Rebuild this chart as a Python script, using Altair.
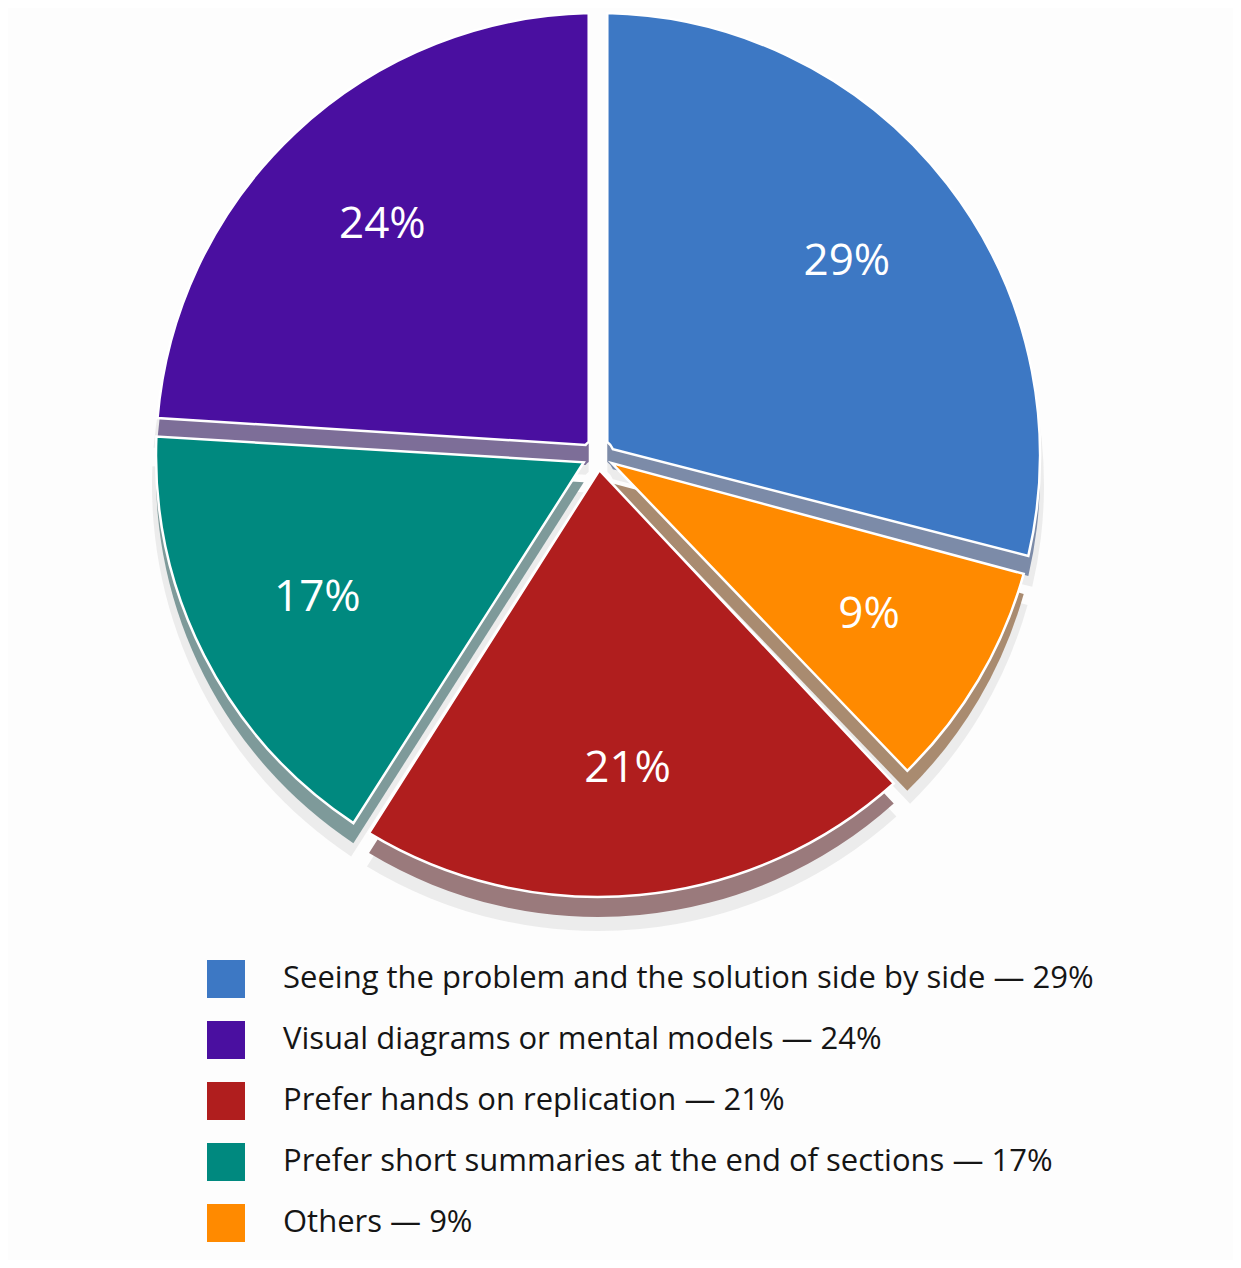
import altair as alt
import pandas as pd

# Slices in clockwise order starting at 12 o'clock
categories = [
    "Seeing the problem and the solution side by side",
    "Others",
    "Prefer hands on replication",
    "Prefer short summaries at the end of sections",
    "Visual diagrams or mental models",
]
values = [29, 9, 21, 17, 24]
face_colors = ["#3D78C4", "#FF8A00", "#B01E1E", "#00897F", "#4A0FA0"]
side_colors = ["#7C8BA8", "#A98B70", "#9A7A7C", "#7E9A9A", "#7D6E98"]
# legend order (indices into the lists above)
legend_order = [0, 4, 2, 3, 1]

labels = [f"{c} — {v}%" for c, v in zip(categories, values)]
df = pd.DataFrame({
    "label": labels,
    "value": values,
    "order": list(range(len(values))),
    "side": side_colors,
    "pct": [f"{v}%" for v in values],
})

legend_domain = [labels[i] for i in legend_order]
legend_range = [face_colors[i] for i in legend_order]

R = 442
R0 = 16
CX, CY = 590, 447
PAD = 0.042

base = alt.Chart(df).encode(
    theta=alt.Theta("value:Q", stack=True),
    order=alt.Order("order:Q"),
    x=alt.value(CX),
    y=alt.value(CY),
)

soft = base.mark_arc(outerRadius=R + 4, innerRadius=R0, padAngle=PAD, yOffset=30,
                     opacity=0.10, fill="#555555")

side = base.mark_arc(outerRadius=R, innerRadius=R0, padAngle=PAD, yOffset=20).encode(
    fill=alt.Fill("side:N", scale=None)
)

face = base.mark_arc(outerRadius=R, innerRadius=R0, padAngle=PAD,
                     stroke="white", strokeWidth=2.5).encode(
    color=alt.Color(
        "label:N",
        scale=alt.Scale(domain=legend_domain, range=legend_range),
        sort=legend_domain,
        legend=alt.Legend(
            title=None,
            orient="none",
            legendX=199,
            legendY=952,
            symbolType="square",
            symbolSize=1444,
            symbolStrokeWidth=0,
            symbolOpacity=1,
            labelFont="Open Sans",
            labelFontSize=31,
            labelColor="#151515",
            labelOffset=38,
            labelLimit=1100,
            rowPadding=23,
        ),
    )
)

text = base.mark_text(
    radius=315, fontSize=44, font="Open Sans", fontWeight=500, color="white",
    align="center", baseline="middle",
).encode(text="pct:N")

chart = alt.layer(soft, side, face, text).properties(
    width=1225,
    height=1252,
    autosize="none",
    padding=0,
    background="#fdfdfd",
).configure_view(stroke=None)

chart.save("out.html", embed_options={"renderer": "svg", "actions": False})
